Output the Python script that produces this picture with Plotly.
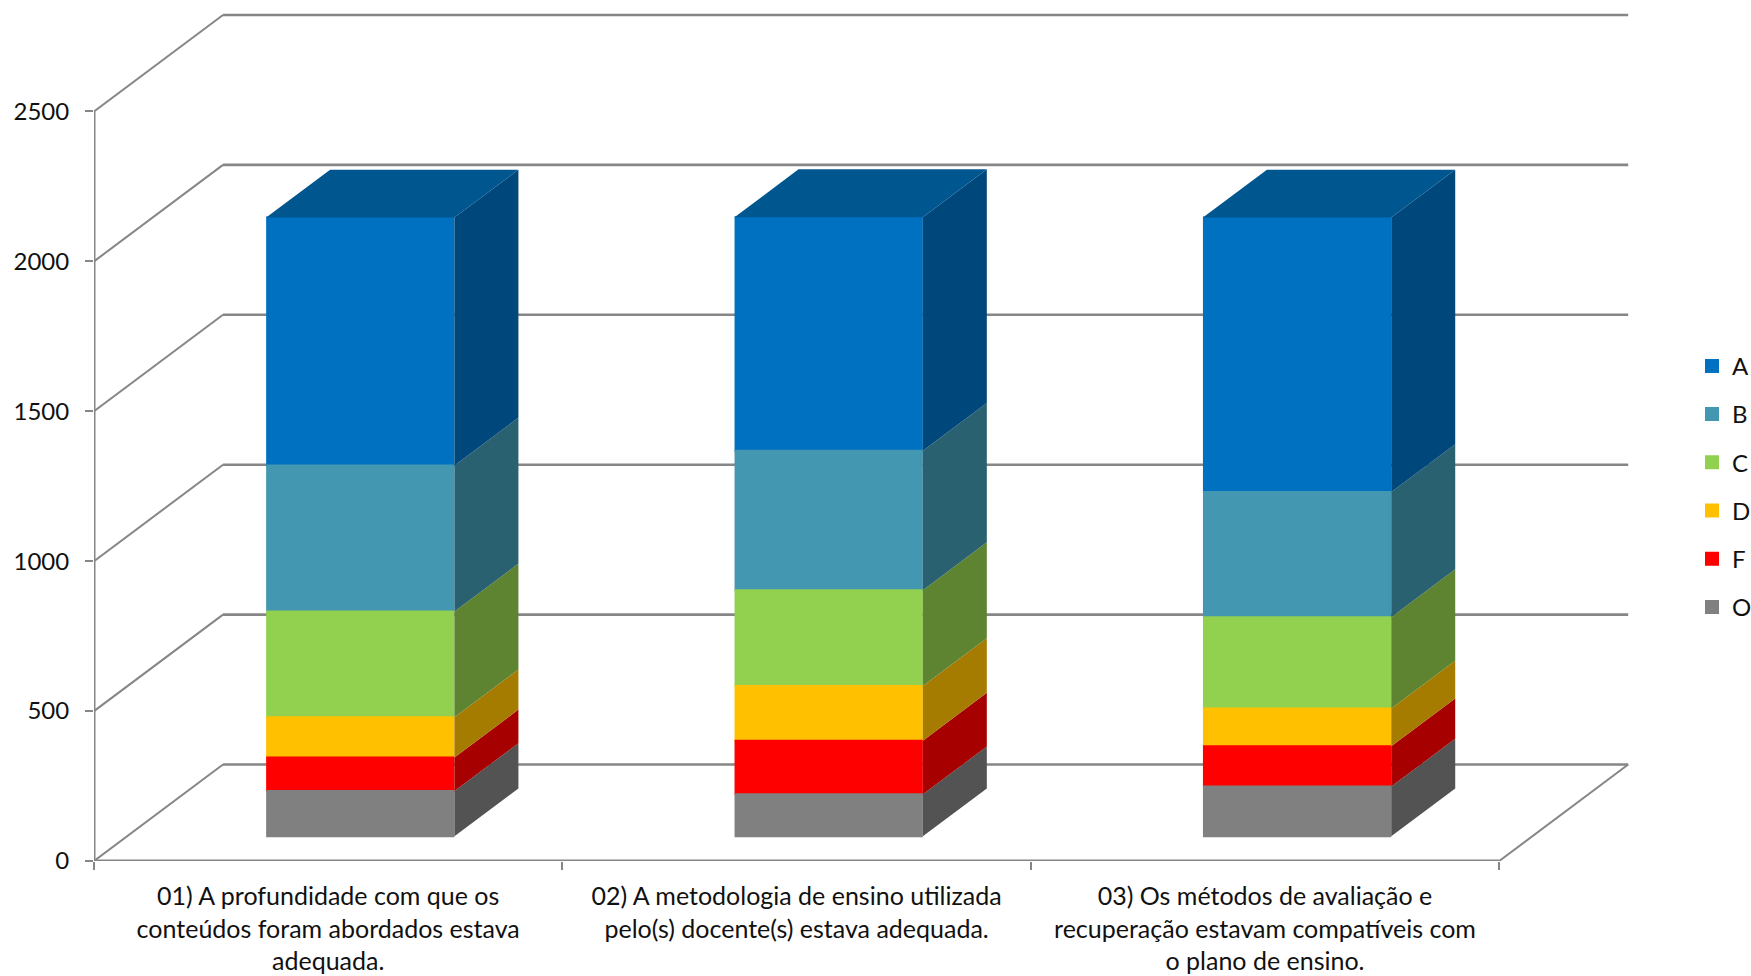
import numpy as np
import plotly.graph_objects as go

categories = [
    "01) A profundidade com que os<br>conteúdos foram abordados estava<br>adequada.",
    "02) A metodologia de ensino utilizada<br>pelo(s) docente(s) estava adequada.",
    "03) Os métodos de avaliação e<br>recuperação estavam compatíveis com<br>o plano de ensino.",
]
series_names = ["O", "F", "D", "C", "B", "A"]
O = [151, 140, 166]
F = [112, 179, 134]
D = [134, 182, 126]
C = [353, 320, 305]
B = [487, 465, 417]
A = [827, 779, 916]
series_values = [O, F, D, C, B, A]
y_ticks = [0, 500, 1000, 1500, 2000, 2500]

front_colors = ["#808080", "#FF0000", "#FFC000", "#92D050", "#4397B0", "#0070C0"]
side_colors = ["#535353", "#A60000", "#A67C00", "#5E8432", "#2A6171", "#00477B"]
top_color = "#00568F"
axis_color = "#868686"
text_color = "#111111"

# page geometry of the 3-D box (pixels), used only to derive the oblique projection
W, H = 1751, 976
L, BOT = 94, 861.5
CAT_PX = 468.4
UNIT_PX = 0.3
DEPTH_X_PX, DEPTH_Y_PX = 129, 96.5

dx = DEPTH_X_PX / CAT_PX      # category units per full depth
dy = DEPTH_Y_PX / UNIT_PX     # value units per full depth
BAR_W = 0.402
BAR_C = 0.498
D0, D1 = 0.256, 0.752         # depth span occupied by the bars


def proj(x, v, depth):
    return x + dx * depth, v + dy * depth


fig = go.Figure()


def line_trace(xs, ys, width):
    fig.add_trace(go.Scatter(x=xs, y=ys, mode="lines", showlegend=False, hoverinfo="skip",
                             line=dict(color=axis_color, width=width)))


# walls: each gridline runs along the side wall and then along the back wall
for v in y_ticks:
    x0, y0 = proj(0, v, 0)
    x1, y1 = proj(0, v, 1)
    x2, y2 = proj(3, v, 1)
    line_trace([x0, x1], [y0, y1], 2)
    line_trace([x1, x2], [y1, y2], 2.6)
# floor right edge
x1, y1 = proj(3, 0, 0)
x2, y2 = proj(3, 0, 1)
line_trace([x1, x2], [y1, y2], 2)
# front axes
line_trace([0, 0], [0, 2500], 3)
line_trace([0, 3], [0, 0], 3)

# stacked faces, on an overlaying subplot so that they hide the walls
n = len(categories)
cum = np.zeros(n)
lefts = [i + BAR_C - BAR_W / 2 for i in range(n)]
for k, (name, vals) in enumerate(zip(series_names, series_values)):
    sx, sy = [], []
    for i in range(n):
        xr = lefts[i] + BAR_W
        a = proj(xr, cum[i], D0)
        b = proj(xr, cum[i], D1)
        c = proj(xr, cum[i] + vals[i], D1)
        d = proj(xr, cum[i] + vals[i], D0)
        sx += [a[0], b[0], c[0], d[0], a[0], None]
        sy += [a[1], b[1], c[1], d[1], a[1], None]
    fig.add_trace(go.Scatter(x=sx, y=sy, mode="lines", fill="toself", fillcolor=side_colors[k],
                             line=dict(width=0, color=side_colors[k]), showlegend=False,
                             hoverinfo="skip", xaxis="x2", yaxis="y2"))
    if k == len(series_names) - 1:
        tx, ty = [], []
        for i in range(n):
            top = cum[i] + vals[i]
            pts = [proj(lefts[i], top, D0), proj(lefts[i] + BAR_W, top, D0),
                   proj(lefts[i] + BAR_W, top, D1), proj(lefts[i], top, D1)]
            tx += [p[0] for p in pts] + [pts[0][0], None]
            ty += [p[1] for p in pts] + [pts[0][1], None]
        fig.add_trace(go.Scatter(x=tx, y=ty, mode="lines", fill="toself", fillcolor=top_color,
                                 line=dict(width=0, color=top_color), showlegend=False,
                                 hoverinfo="skip", xaxis="x2", yaxis="y2"))
    cum = cum + np.array(vals)

# front faces are real bars; the legend is added in reverse so that A comes first
cum = np.zeros(n)
bars = []
EDGE = 2
for k, (name, vals) in enumerate(zip(series_names, series_values)):
    fx = [proj(i + BAR_C, 0, D0)[0] for i in range(n)]
    base = [proj(0, c, D0)[1] for c in cum]
    bars.append(go.Bar(x=fx, y=vals, base=base, width=BAR_W - EDGE / CAT_PX, name=name,
                       marker=dict(color=front_colors[k], line=dict(width=EDGE, color=front_colors[k])),
                       legendgroup=name, xaxis="x2", yaxis="y2"))
    cum = cum + np.array(vals)
for b in reversed(bars):
    fig.add_trace(b)

plot_w = W - L
plot_h = BOT
x_range = [0, plot_w / CAT_PX]
y_range = [0, plot_h / UNIT_PX]
fig.update_layout(
    width=W, height=H,
    margin=dict(l=L, r=0, t=0, b=H - BOT, pad=0, autoexpand=False),
    paper_bgcolor="white", plot_bgcolor="white",
    barmode="overlay",
    font=dict(family="Lato, Carlito, sans-serif", size=25, color=text_color),
    legend=dict(x=(1692 - L) / plot_w, xanchor="left", y=(BOT - 344) / plot_h, yanchor="top",
                traceorder="grouped", tracegroupgap=14,
                bgcolor="rgba(0,0,0,0)", itemwidth=30, font=dict(size=24)),
    xaxis=dict(range=x_range, tickmode="array",
               tickvals=[i + 0.5 for i in range(n)], ticktext=categories,
               ticks="", showgrid=False, zeroline=False, showline=False,
               ticklabelstandoff=18, tickfont=dict(size=25),
               minor=dict(tickmode="array", tickvals=list(range(n + 1)), ticks="outside",
                          ticklen=8, tickwidth=2, tickcolor=axis_color, showgrid=False)),
    yaxis=dict(range=y_range, tickmode="array", tickvals=y_ticks,
               ticks="outside", ticklen=8, tickwidth=2, tickcolor=axis_color, tickfont=dict(size=24),
               showgrid=False, zeroline=False, showline=False, ticklabelstandoff=11),
    xaxis2=dict(range=x_range, overlaying="x", visible=False),
    yaxis2=dict(range=y_range, overlaying="y", visible=False),
)

fig.write_html("out.html", config=dict(displayModeBar=False),
               post_script="document.body.style.margin='0';document.body.style.overflow='hidden';")
